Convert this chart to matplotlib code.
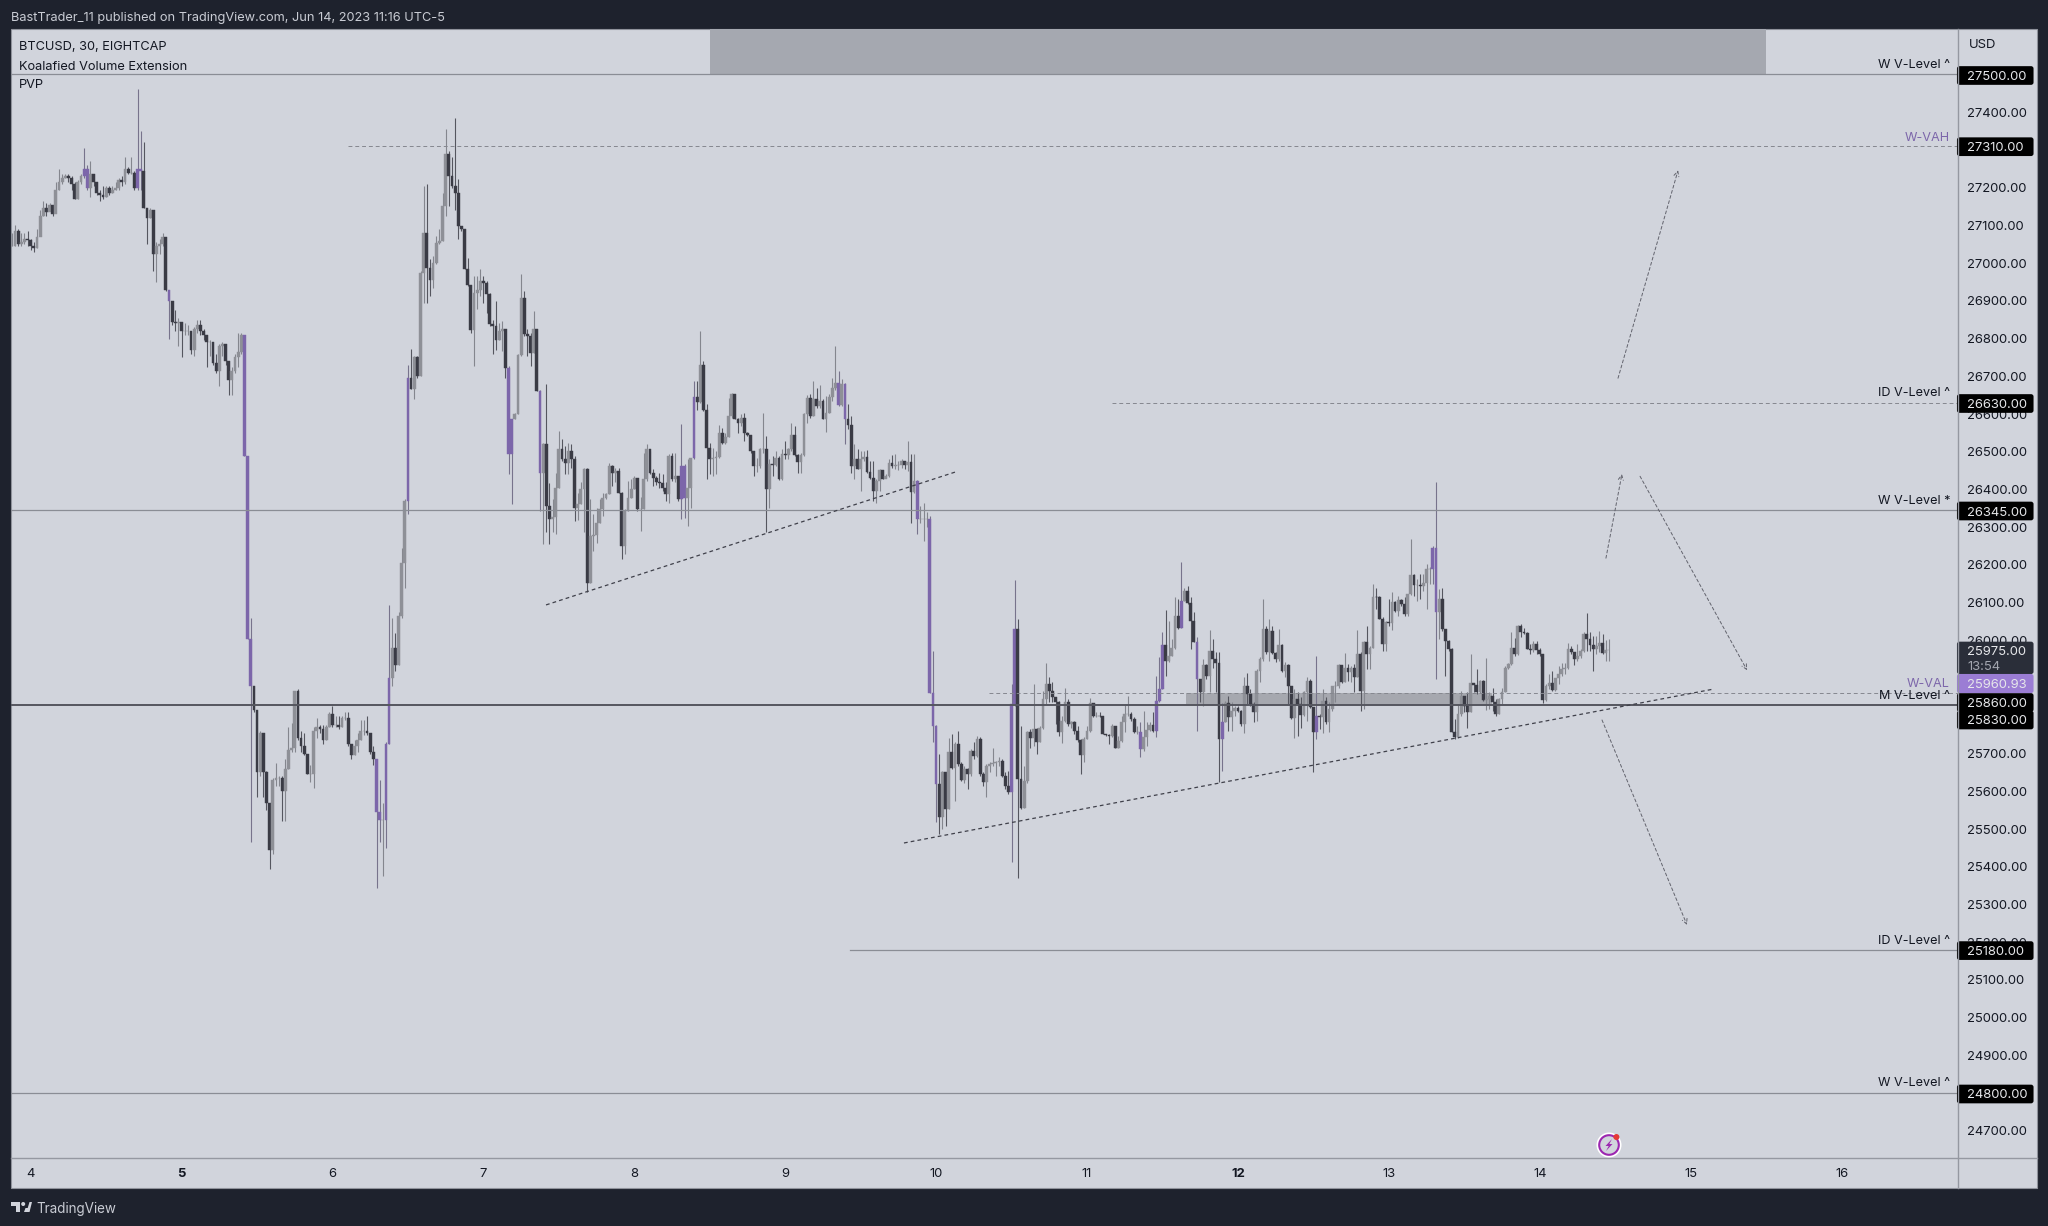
import matplotlib
matplotlib.use('Agg')
import numpy as np
import matplotlib.pyplot as plt
from matplotlib.patches import Rectangle, Circle, Polygon, FancyBboxPatch

plt.rcParams['font.family'] = ['Inter', 'DejaVu Sans']

# 30 minute bars, first bar sits at day 3.875
first_day = 3.875
first_open = 27045
bar_close = [
27045,27085,27050,27055,27065,27060,27045,27040,27070,27125,
27145,27135,27155,27130,27195,27215,27225,27230,27225,27210,
27170,27215,27230,27250,27200,27235,27215,27185,27180,27175,
27200,27185,27195,27200,27220,27215,27250,27240,27240,27200,
27250,27245,27145,27120,27140,27025,27045,27050,27070,26930,
26900,26845,26840,26845,26820,26820,26820,26770,26825,26835,
26820,26810,26790,26790,26735,26715,26780,26785,26740,26690,
26715,26750,26765,26810,26490,26005,25880,25815,25650,25755,
25650,25570,25445,25630,25635,25635,25600,25660,25710,25715,
25865,25740,25720,25700,25645,25645,25760,25770,25765,25735,
25770,25805,25775,25775,25770,25795,25795,25725,25695,25720,
25735,25760,25760,25755,25705,25685,25545,25525,25525,25725,
25900,25980,25935,26065,26205,26370,26695,
26667,26750,26701,26975,27081,26988,26954,27001,27054,27059,
27151,27288,27231,27204,27187,27098,27090,26984,26941,26823,
26922,26930,26953,26948,26917,26838,26833,26796,26820,26825,
26723,26493,26588,26599,26756,26908,26811,26807,26763,26825,
26661,26445,26520,26355,26323,26328,26405,26507,26482,26471,
26502,26480,26352,26361,26400,26455,26153,26277,26279,26310,
26347,26378,26387,26462,26445,26449,26392,26250,26343,26378,
26401,26431,26347,26347,26427,26507,26445,26431,26420,26418,
26405,26387,26489,26427,26436,26374,26462,26378,26405,26484,
26646,
26633,26729,26612,26511,26482,26484,26487,26551,26524,26540,
26595,26652,26588,26575,26590,26551,26544,26502,26461,26461,
26508,26508,26400,26467,26465,26484,26427,26493,26491,26507,
26545,26491,26473,26491,26599,26643,26595,26641,26620,26635,
26588,26604,26646,26670,26683,26623,26679,26586,26572,26461,
26482,26455,26482,26487,26446,26431,26396,26423,26452,26429,
26436,26469,26462,26464,26464,26476,26464,26473,26393,26423,
26321,26321,26321,26321,25860,
25774,25619,25531,25650,25553,25703,25663,25725,25672,25631,
25659,25646,25708,25694,25738,25646,25624,25668,25672,25675,
25677,25681,25641,25615,25597,25831,26030,25632,25557,25628,
25756,25740,25765,25731,25769,25844,25884,25867,25849,25836,
25758,25787,25837,25778,25783,25761,25737,25696,25738,25761,
25834,25799,25800,25799,25752,25749,25747,25772,25716,25734,
25783,25805,25806,25791,25758,25758,25712,25743,25763,25776,
25761,25840,25871,25988,25946,25959,25981,26065,26034,
26105,26132,26099,26052,25996,25898,25862,25935,25905,25973,
25950,25940,25739,25784,25834,25796,25814,25822,25814,25778,
25880,25858,25831,25809,25920,25950,26030,25970,26026,25966,
25950,25988,25920,25935,25878,25793,25844,25831,25802,25862,
25893,25824,25758,25799,25796,25840,25783,25818,25878,25880,
25935,25890,25928,25915,25926,25902,25964,25867,25996,25964,
25981,26116,26114,26058,25990,26048,26045,26102,26079,26108,
26096,26070,26123,26173,26147,26147,
26144,26153,26189,26189,26246,26074,26111,26029,25999,25978,
25756,25745,25804,25853,25826,25810,25886,25881,25862,25893,
25842,25844,25853,25837,25804,25844,25863,25928,25937,25981,
25963,26037,26021,26019,25978,25975,25990,25975,25963,25842,
25879,25888,25869,25899,25910,25923,25928,25978,25968,25952,
25959,25972,26016,26003,25987,25978,25984,25994,25966,25975,
25975]
bar_high = [
27080,27100,27090,27080,27080,27085,27065,27055,27090,27140,
27165,27160,27160,27155,27215,27250,27235,27235,27235,27230,
27215,27220,27235,27305,27260,27270,27235,27215,27195,27205,
27205,27205,27205,27215,27225,27230,27280,27255,27280,27245,
27462,27350,27320,27145,27145,27140,27055,27065,27080,27070,
26930,26900,26875,26855,26845,26840,26835,26820,26830,26850,
26850,26825,26810,26795,26790,26760,26785,26790,26785,26740,
26725,26760,26815,26815,26810,26490,26060,25880,25815,25760,
25755,25655,25560,25635,25675,25640,25640,25685,25770,25780,
25865,25870,25760,25755,25700,25670,25770,25795,25775,25775,
25775,25810,25825,25800,25800,25800,25810,25810,25725,25735,
25755,25790,25790,25800,25755,25720,25685,25630,25570,25730,
26095,26060,26020,26075,26245,26375,26730,
26772,26755,26754,26980,27204,27209,27010,27019,27072,27090,
27187,27355,27297,27280,27385,27222,27098,27090,27014,26941,
26966,26966,26984,26966,26953,26922,26850,26900,26842,26847,
26825,26727,26588,26603,26758,26970,26926,26825,26816,26873,
26825,26665,26524,26679,26418,26374,26445,26555,26533,26515,
26524,26520,26490,26392,26420,26458,26458,26374,26335,26350,
26374,26392,26392,26469,26465,26458,26458,26393,26347,26422,
26427,26436,26431,26380,26498,26520,26502,26455,26436,26445,
26440,26420,26493,26498,26498,26436,26573,26467,26480,26484,
26688,
26688,26820,26741,26626,26524,26511,26502,26570,26564,26551,
26643,26655,26652,26590,26600,26604,26552,26544,26502,26484,
26511,26602,26542,26480,26489,26502,26489,26507,26529,26511,
26575,26567,26493,26498,26604,26650,26652,26688,26670,26676,
26639,26648,26652,26696,26780,26714,26692,26683,26626,26595,
26520,26506,26502,26502,26505,26476,26476,26427,26454,26452,
26440,26480,26491,26493,26476,26480,26476,26529,26493,26493,
26425,26356,26365,26340,26330,
25973,25775,25699,25654,25650,25741,25752,25730,25761,25677,
25668,25663,25712,25730,25747,25743,25650,25672,25677,25716,
25681,25690,25685,25650,25654,25884,26161,26056,25774,25668,
25760,25765,25884,25769,25774,25867,25940,25902,25889,25849,
25840,25800,25875,25844,25787,25787,25774,25738,25743,25772,
25846,25834,25809,25809,25796,25752,25752,25778,25773,25747,
25800,25831,25853,25809,25796,25774,25783,25813,25783,25784,
25809,25906,25955,26023,26081,26052,26003,26114,26109,
26208,26140,26145,26114,26074,26008,25898,25950,25937,26027,
26003,25968,25968,25835,25840,25853,25836,25827,25827,25816,
25902,25913,25871,25836,25924,25955,26110,26039,26057,26037,
25968,26030,25990,25942,25937,25878,25871,25862,25849,25866,
25902,25897,25824,25958,25805,25871,25849,25836,25880,25893,
25937,25935,25966,25937,25933,25937,26027,25968,25999,26039,
25986,26149,26140,26118,26061,26052,26111,26127,26105,26118,
26110,26114,26123,26268,26176,26162,
26175,26175,26202,26195,26249,26420,26136,26140,26029,26001,
25981,25791,25831,25866,25853,25862,25963,25888,25923,25895,
25895,25954,25862,25875,25844,25848,25875,25932,25941,26021,
26007,26040,26043,26034,26021,25990,25999,25999,25981,25963,
25884,25910,25919,25901,25932,25941,25941,25994,25985,25968,
25990,25976,26021,26072,26021,26012,26012,26025,26016,26000,
26003]
bar_low = [
27045,27045,27045,27045,27050,27045,27035,27030,27040,27075,
27125,27125,27140,27125,27155,27195,27210,27225,27215,27195,
27170,27170,27210,27225,27195,27175,27205,27180,27165,27170,
27175,27180,27185,27195,27195,27205,27210,27235,27235,27195,
27195,27195,27145,27050,27120,26980,26950,27025,27045,26925,
26800,26835,26820,26780,26750,26810,26810,26760,26755,26815,
26810,26795,26725,26755,26730,26710,26675,26755,26730,26650,
26650,26710,26725,26760,26490,26005,25465,25810,25585,25640,
25585,25550,25395,25435,25615,25615,25520,25520,25660,25705,
25705,25735,25705,25695,25645,25625,25610,25740,25755,25725,
25735,25770,25770,25770,25765,25770,25790,25720,25685,25695,
25705,25735,25750,25750,25700,25670,25345,25465,25375,25450,
25725,25880,25920,25935,26060,26140,26335,
26666,26640,26696,26700,26895,26895,26913,26935,26997,27050,
27059,27125,27151,27200,27142,27063,27085,26984,26940,26815,
26727,26878,26913,26895,26869,26833,26758,26771,26795,26767,
26696,26440,26361,26586,26599,26754,26807,26754,26727,26763,
26661,26343,26255,26286,26255,26286,26281,26405,26476,26440,
26440,26458,26317,26320,26361,26286,26127,26153,26237,26259,
26310,26330,26375,26387,26410,26420,26392,26215,26228,26343,
26378,26401,26343,26290,26347,26422,26440,26410,26413,26405,
26396,26370,26365,26423,26420,26370,26321,26325,26303,26352,
26480,
26612,26630,26608,26427,26440,26436,26440,26484,26520,26520,
26540,26590,26586,26551,26568,26529,26542,26498,26436,26447,
26458,26498,26286,26352,26436,26462,26425,26425,26480,26482,
26502,26489,26445,26443,26489,26577,26590,26595,26617,26617,
26586,26552,26602,26635,26665,26621,26621,26520,26560,26445,
26429,26453,26396,26476,26445,26427,26370,26365,26396,26427,
26431,26434,26458,26454,26452,26458,26454,26449,26312,26392,
26281,26312,26264,26300,25860,
25730,25518,25487,25500,25509,25553,25659,25575,25668,25628,
25623,25606,25641,25685,25690,25641,25615,25584,25650,25668,
25641,25668,25637,25606,25593,25413,25827,25369,25553,25557,
25623,25716,25720,25699,25730,25765,25831,25836,25836,25778,
25747,25728,25783,25774,25769,25752,25730,25646,25677,25738,
25758,25796,25796,25796,25752,25747,25725,25743,25714,25714,
25731,25756,25800,25787,25754,25752,25692,25707,25721,25760,
25758,25745,25836,25871,25906,25943,25959,25977,26030,
26034,26105,26096,25977,25995,25761,25836,25827,25898,25862,
25928,25862,25624,25655,25783,25761,25761,25800,25809,25772,
25754,25831,25827,25783,25787,25889,25946,25964,25946,25964,
25942,25946,25917,25902,25831,25791,25740,25747,25767,25800,
25787,25822,25650,25738,25765,25754,25778,25756,25814,25836,
25875,25887,25889,25893,25889,25862,25902,25814,25818,25924,
25924,25979,26083,26056,25973,25973,26039,26028,26074,26064,
26092,26065,26065,26120,26118,26105,
26109,26131,26083,26150,26150,25897,26004,26025,25906,25972,
25756,25738,25742,25800,25809,25769,25810,25862,25857,25860,
25840,25816,25818,25813,25800,25804,25831,25862,25925,25934,
25959,25961,26010,26016,25976,25963,25968,25963,25959,25835,
25840,25870,25866,25866,25884,25906,25910,25925,25963,25934,
25945,25954,25969,25972,25972,25919,25963,25968,25963,25946,
25946]
high_volume_bars = [23, 24, 40, 41, 50, 74, 75, 76, 116, 117, 119, 120, 126, 158, 159,
                    168, 213, 214, 217, 263, 265, 288, 292, 293, 294, 318, 319, 359,
                    364, 365, 366, 372, 377, 385, 415, 452, 453]

day_ticks = [4, 5, 6, 7, 8, 9, 10, 11, 12, 13, 14, 15, 16]
bold_days = [5, 12]
# the round prices fully under a level box are left out
price_ticks = [p for p in range(24700, 27500, 100) if p not in (27300, 25900, 25800, 24800)]

# start day, end day, price
solid_levels = [(3.87, 16.78, 27500), (3.87, 16.78, 26345), (9.43, 16.78, 25180), (3.87, 16.78, 24800)]
dashed_levels = [(6.105, 16.78, 27310), (11.165, 16.78, 26630), (10.35, 16.78, 25860)]
main_level = 25830
zone_days = [11.653, 13.684]
zone_prices = [25830, 25860]
top_band_days = [8.5, 15.50]
top_band_prices = [27500, 27625]
trend_days = [[7.415, 10.125], [9.787, 15.153]]
trend_prices = [[26094, 26446], [25463, 25871]]
arrow_days = [[14.519, 14.917], [14.439, 14.545], [14.665, 15.374], [14.413, 14.976]]
arrow_prices = [[26695, 27246], [26218, 26441], [26435, 25921], [25789, 25246]]

NAVY = '#1e222d'
PANEL = '#d1d4dc'
INK = '#131722'
PURPLE = '#7c66aa'

W, H = 2048, 1226
fig = plt.figure(figsize=(W / 100, H / 100), dpi=100, facecolor=NAVY)


def pixel_axes(zorder):
    a = fig.add_axes([0, 0, 1, 1], zorder=zorder)
    a.set_xlim(0, W)
    a.set_ylim(H, 0)
    a.axis('off')
    a.patch.set_alpha(0)
    return a


back = pixel_axes(0)
back.add_patch(Rectangle((11, 29), 2026, 1159, fc=PANEL, ec='#8f929b', lw=0.8))

# main chart
ax = fig.add_axes([11 / W, 1 - 1158 / H, (1958 - 11) / W, (1158 - 29) / H], zorder=1)
ax.patch.set_alpha(0)
ax.set_xlim(3.8695, 16.772)
ax.set_ylim(24628, 27620.6)

close = np.array(bar_close, dtype=float)
high = np.array(bar_high, dtype=float)
low = np.array(bar_low, dtype=float)
open_ = np.concatenate([[first_open], close[:-1]])
days = first_day + np.arange(close.size) / 48

colors = np.where(close >= open_, '#8e9097', '#3a3b45').astype(object)
wick_colors = np.where(close >= open_, '#84868e', '#55565f').astype(object)
colors[high_volume_bars] = PURPLE
wick_colors[high_volume_bars] = '#77738c'

ax.fill_between(top_band_days, top_band_prices[0], top_band_prices[1], color='#a5a8b0', lw=0, zorder=1)
ax.fill_between(zone_days, zone_prices[0], zone_prices[1], color='#a6a8af', lw=0, zorder=1)

ax.vlines(days, low, high, colors=list(wick_colors), lw=0.8, zorder=2)
ax.bar(days, np.abs(close - open_), bottom=np.minimum(close, open_), width=2.8 / 150.9,
       color=list(colors), edgecolor=list(colors), lw=0.3, zorder=3)

for d0, d1, p in solid_levels:
    ax.plot([d0, d1], [p, p], color='#8a8d95', lw=0.9, zorder=4)
for d0, d1, p in dashed_levels:
    ax.plot([d0, d1], [p, p], color='#85878f', lw=0.7, ls=(0, (4, 3)), zorder=4)
ax.plot([3.87, 16.78], [main_level, main_level], color='#55565f', lw=1.4, zorder=4)

for d, p in zip(trend_days, trend_prices):
    ax.plot(d, p, color='#3f404a', lw=0.9, ls=(0, (3, 2.5)), zorder=4)
for d, p in zip(arrow_days, arrow_prices):
    ax.annotate('', xy=(d[1], p[1]), xytext=(d[0], p[0]), zorder=4,
                arrowprops=dict(arrowstyle='->,head_length=0.35,head_width=0.18', color='#62636d',
                                lw=0.7, ls=(0, (3, 2.5)), shrinkA=0, shrinkB=0))

for s in ax.spines.values():
    s.set_visible(False)
ax.yaxis.tick_right()
ax.set_yticks(price_ticks)
ax.set_yticklabels(['%.2f' % p for p in price_ticks], fontsize=9.4, color=INK)
ax.set_xticks(day_ticks)
ax.set_xticklabels([str(d) for d in day_ticks], fontsize=9.4, color=INK)
for lab, d in zip(ax.get_xticklabels(), day_ticks):
    if d in bold_days:
        lab.set_fontweight('bold')
ax.tick_params(axis='y', length=0, pad=6.5)
ax.tick_params(axis='x', length=0, pad=7.3)

# things on top: separators, price boxes, labels, logo
top = pixel_axes(5)
top.plot([1958, 1958], [29, 1188], color='#9598a1', lw=1)
top.plot([11, 2037], [1158, 1158], color='#9598a1', lw=1)


def price_box(y0, y1, face):
    top.add_patch(FancyBboxPatch((1958, y0 + 1), 74.5, y1 - y0 - 2, boxstyle='round,pad=0,rounding_size=1.5',
                                 fc=face, ec=face, lw=1.5))


def price_text(y, s, color='#e6e7ea'):
    top.text(1967, y, s, color=color, fontsize=9.4, va='center_baseline', ha='left')


for y, s in [(75.5, '27500.00'), (146.7, '27310.00'), (403.5, '26630.00'), (511, '26345.00'),
             (702.5, '25860.00'), (720, '25830.00'), (950.6, '25180.00'), (1094, '24800.00')]:
    price_box(y - 9.3, y + 9.3, '#000000')
    price_text(y, s)
price_box(641.7, 674, '#2a2e39')
price_text(650.5, '25975.00')
price_text(665.5, '13:54', '#a3a6af')
price_box(674, 693, '#9b7dd4')
price_text(683.5, '25960.93')

top.text(1969, 43, 'USD', color=INK, fontsize=9.4, va='center_baseline')
for y, s, c in [(64, 'W V-Level ^', INK), (136.5, 'W-VAH', PURPLE), (392, 'ID V-Level ^', INK),
                (499.5, 'W V-Level *', INK), (682.5, 'W-VAL', PURPLE), (694.5, 'M V-Level ^', INK),
                (939, 'ID V-Level ^', INK), (1082, 'W V-Level ^', INK)]:
    top.text(1950, y, s, color=c, fontsize=9.1, ha='right', va='center_baseline')

top.text(11, 17, 'BastTrader_11 published on TradingView.com, Jun 14, 2023 11:16 UTC-5',
         color='#c9ccd4', fontsize=9.2, va='center_baseline')
for y, s in [(46, 'BTCUSD, 30, EIGHTCAP'), (65, 'Koalafied Volume Extension'), (83, 'PVP')]:
    top.text(19, y, s, color=INK, fontsize=9.2, va='center_baseline')

# TradingView mark
top.add_patch(Rectangle((11, 1202), 9, 4, fc='#d1d4dc', lw=0))
top.add_patch(Rectangle((15.5, 1202), 4.5, 10, fc='#d1d4dc', lw=0))
top.add_patch(Circle((23.2, 1204), 2, fc='#d1d4dc', lw=0))
top.add_patch(Polygon([(26.5, 1212), (29.5, 1202), (32, 1202), (29.5, 1212)], fc='#d1d4dc', lw=0))
top.add_patch(Polygon([(24, 1212), (29, 1212), (30, 1208), (25.5, 1208)], fc='#d1d4dc', lw=0))
top.text(36, 1208, 'TradingView', color='#c9ccd4', fontsize=9.7, va='center_baseline')

# replay / idea icon
top.add_patch(Circle((1609, 1145), 12.5, fc='white', ec='none'))
top.add_patch(Circle((1609, 1145), 9.8, fc=PANEL, ec='#9c27b0', lw=1.5))
top.add_patch(Polygon([(1612, 1139), (1605.5, 1146), (1608.7, 1146), (1606, 1151), (1612.5, 1144),
                       (1609.3, 1144)], fc='#9c27b0', lw=0))
top.add_patch(Circle((1616.4, 1137), 3, fc='#e53935', ec='none'))

fig.savefig('out.png', dpi=100, facecolor=NAVY)
